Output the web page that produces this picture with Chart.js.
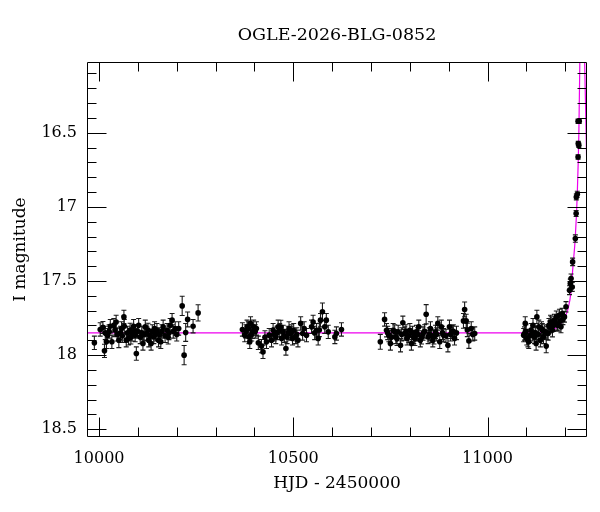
<!DOCTYPE html>
<html><head><meta charset="utf-8">
<script src="https://cdn.jsdelivr.net/npm/chart.js@4"></script>
<style>html,body{margin:0;padding:0;background:#fff}</style>
</head><body>
<canvas id="c" width="600" height="512"></canvas>
<script>
// Observations: HJD-2450000, I magnitude, error
const hjd = [
 9988,10003,10010,10014,10019,10022,10026,10029,10033,10038,10044,10047,10051,10055,10060,10064,10065,10070,10076,10080,10085,10089,10093,10096,10099,10102,10106,10110,10113,10119,10123,10128,10134,10137,10141,10145,10149,10153,10159,10165,10170,10175,10180,10183,10188,10196,10200,10205,10214,10219,10223,10228,10242,10255,
 10369,10375,10381,10386,10388,10390,10395,10398,10405,10410,10418,10422,10431,10438,10444,10448,10455,10461,10465,10470,10474,10481,10484,10489,10493,10498,10501,10506,10512,10519,10524,10534,10547,10551,10560,10564,10570,10575,10581,10585,10590,10607,10611,10624,
 10724,10735,10740,10746,10750,10757,10764,10770,10776,10782,10787,10793,10800,10804,10810,10817,10823,10827,10834,10842,10847,10853,10859,10866,10872,10877,10881,10887,10898,10902,10909,10915,10938,10941,10945,10952,10958,10967,
 11093,11095,11097,11101,11104,11106,11112,11117,11121,11125,11127,11132,11136,11141,11144,11151,11153,11156,11158,11162,11164,11167,11172,11177,11181,11185,11189,11192,11194,11198,11202,11211,11213,11215,11218,11219,11226,11228,11228.5,11231,11233,11233.5,11235,11233,11236,
 10016,10041,10058,10073,10082,10091,10116,10126,10131,10143,10156,10162,10178,10191,
 10378,10384,10393,10402,10427,10451,10458,10468,10477,10487,10496,10509,10528,10555,10567,
 10743,10753,10761,10767,10779,10790,10797,10807,10813,10820,10830,10838,10850,10856,10862,10869,10884,10893,10905,10912,10920,10948,10962,
 11099,11109,11115,11123,11130,11139,11147,11160,11170,11179,11187,11196
];
const imag = [
 17.917,17.827,17.813,17.971,17.910,17.865,17.840,17.805,17.910,17.798,17.776,17.860,17.899,17.850,17.870,17.742,17.805,17.899,17.887,17.830,17.860,17.805,17.865,17.989,17.840,17.798,17.877,17.850,17.921,17.809,17.854,17.899,17.921,17.840,17.877,17.860,17.832,17.899,17.910,17.809,17.870,17.832,17.850,17.798,17.764,17.820,17.860,17.820,17.668,18.000,17.847,17.759,17.805,17.715,
 17.827,17.865,17.809,17.877,17.910,17.786,17.843,17.809,17.820,17.917,17.939,17.978,17.910,17.865,17.899,17.832,17.877,17.809,17.832,17.887,17.843,17.955,17.877,17.820,17.854,17.887,17.832,17.877,17.899,17.786,17.854,17.865,17.809,17.776,17.832,17.887,17.764,17.708,17.809,17.764,17.843,17.877,17.854,17.827,
 17.910,17.759,17.832,17.865,17.921,17.832,17.877,17.843,17.933,17.782,17.854,17.887,17.832,17.921,17.877,17.843,17.809,17.899,17.854,17.724,17.877,17.820,17.899,17.843,17.786,17.910,17.809,17.865,17.933,17.809,17.843,17.887,17.769,17.692,17.769,17.904,17.820,17.854,
 17.865,17.854,17.786,17.887,17.899,17.910,17.832,17.798,17.877,17.921,17.742,17.809,17.899,17.832,17.877,17.939,17.850,17.854,17.798,17.776,17.786,17.832,17.764,17.742,17.798,17.730,17.809,17.719,17.759,17.742,17.674,17.562,17.517,17.483,17.540,17.371,17.214,17.045,16.933,16.915,16.664,16.573,16.585,16.423,16.423,
 17.85,17.83,17.82,17.85,17.88,17.84,17.86,17.83,17.87,17.82,17.86,17.84,17.88,17.84,
 17.84,17.82,17.86,17.84,17.88,17.86,17.85,17.81,17.87,17.85,17.84,17.86,17.82,17.85,17.83,
 17.85,17.88,17.84,17.89,17.86,17.84,17.87,17.85,17.89,17.86,17.88,17.84,17.86,17.87,17.88,17.86,17.85,17.87,17.86,17.84,17.85,17.83,17.86,
 17.84,17.87,17.86,17.85,17.86,17.82,17.84,17.81,17.80,17.79,17.77,17.74
];
const ierr = [
 0.045,0.045,0.040,0.045,0.045,0.045,0.045,0.045,0.045,0.045,0.045,0.045,0.050,0.045,0.045,0.045,0.045,0.045,0.045,0.045,0.045,0.045,0.045,0.045,0.045,0.045,0.045,0.045,0.045,0.045,0.045,0.045,0.045,0.045,0.045,0.045,0.045,0.045,0.045,0.045,0.045,0.045,0.045,0.045,0.045,0.045,0.045,0.045,0.065,0.065,0.060,0.050,0.045,0.055,
 0.045,0.045,0.045,0.045,0.045,0.045,0.045,0.045,0.045,0.045,0.045,0.045,0.045,0.045,0.045,0.045,0.045,0.045,0.045,0.045,0.045,0.045,0.045,0.045,0.045,0.045,0.045,0.045,0.045,0.045,0.045,0.045,0.045,0.045,0.045,0.045,0.045,0.060,0.045,0.045,0.045,0.045,0.045,0.045,
 0.050,0.045,0.045,0.045,0.045,0.045,0.045,0.045,0.045,0.045,0.045,0.045,0.045,0.045,0.045,0.045,0.045,0.045,0.045,0.065,0.045,0.045,0.045,0.045,0.045,0.045,0.045,0.045,0.045,0.045,0.045,0.045,0.050,0.050,0.045,0.050,0.045,0.045,
 0.045,0.045,0.045,0.045,0.045,0.045,0.045,0.045,0.045,0.045,0.045,0.045,0.045,0.045,0.045,0.045,0.045,0.045,0.045,0.045,0.045,0.045,0.040,0.040,0.040,0.040,0.040,0.035,0.035,0.035,0.035,0.030,0.030,0.030,0.030,0.025,0.025,0.020,0.020,0.020,0.015,0.015,0.015,0.015,0.015,
 0.045,0.045,0.045,0.045,0.045,0.045,0.045,0.045,0.045,0.045,0.045,0.045,0.045,0.045,
 0.045,0.045,0.045,0.045,0.045,0.045,0.045,0.045,0.045,0.045,0.045,0.045,0.045,0.045,0.045,
 0.045,0.045,0.045,0.045,0.045,0.045,0.045,0.045,0.045,0.045,0.045,0.045,0.045,0.045,0.045,0.045,0.045,0.045,0.045,0.045,0.045,0.045,0.045,
 0.045,0.045,0.045,0.045,0.045,0.045,0.045,0.040,0.040,0.040,0.040,0.035
];
// Model light curve
const modelHjd = [9969,11140,11168,11185,11194,11200,11207,11215,11219,11226,11231,11235,11237.5,11241,11244,11247,11250,11252,11256];
const modelMag = [17.85,17.85,17.83,17.80,17.77,17.74,17.69,17.57,17.43,17.20,16.91,16.51,16.03,15.4,15.2,15.4,16.03,16.28,16.80];
// Axis tick labels
const xTickValues = [10000, 10500, 11000];
const yTickValues = [16.5, 17, 17.5, 18, 18.5];

const FONT = "'DejaVu Serif', 'Liberation Serif', serif";

const errorBars = {
  id: 'errorBars',
  beforeDatasetDraw(chart, args) {
    if (args.index !== 1) return;
    const {ctx, scales: {x, y}, chartArea: a} = chart;
    ctx.save();
    ctx.beginPath(); ctx.rect(a.left, a.top, a.right - a.left, a.bottom - a.top); ctx.clip();
    ctx.strokeStyle = '#1a1a1a'; ctx.lineWidth = 1.1;
    ctx.beginPath();
    for (let i = 0; i < hjd.length; i++) {
      const px = x.getPixelForValue(hjd[i]);
      const y1 = y.getPixelForValue(imag[i] - ierr[i]);
      const y2 = y.getPixelForValue(imag[i] + ierr[i]);
      ctx.moveTo(px, y1); ctx.lineTo(px, y2);
      ctx.moveTo(px - 2.5, y1); ctx.lineTo(px + 2.5, y1);
      ctx.moveTo(px - 2.5, y2); ctx.lineTo(px + 2.5, y2);
    }
    ctx.stroke();
    ctx.restore();
  }
};

const frameTicks = {
  id: 'frameTicks',
  afterDatasetsDraw(chart) {
    const {ctx, chartArea: {left, right, top, bottom}, scales: {x, y}} = chart;
    const L = Math.round(left) + 0.5, R = Math.round(right) - 0.5, T = Math.round(top) + 0.5, B = Math.round(bottom) - 0.5;
    ctx.save();
    ctx.strokeStyle = '#000'; ctx.lineWidth = 1;
    ctx.beginPath();
    ctx.rect(L, T, R - L, B - T);
    const xMaj = x.ticks.map(t => t.value);
    const yMaj = y.ticks.map(t => t.value);
    const MAJ = 19, MIN = 9;
    for (let v = Math.ceil(x.min / 100) * 100; v <= x.max; v += 100) {
      const len = xMaj.some(m => Math.abs(m - v) < 1e-6) ? MAJ : MIN;
      const px = Math.round(x.getPixelForValue(v)) + 0.5;
      ctx.moveTo(px, B); ctx.lineTo(px, B - len);
      ctx.moveTo(px, T); ctx.lineTo(px, T + len);
    }
    for (let k = Math.ceil(y.min * 10); k <= Math.floor(y.max * 10); k++) {
      const v = k / 10;
      const len = yMaj.some(m => Math.abs(m - v) < 1e-6) ? MAJ : MIN;
      const py = Math.round(y.getPixelForValue(v)) + 0.5;
      ctx.moveTo(L, py); ctx.lineTo(L + len, py);
      ctx.moveTo(R, py); ctx.lineTo(R - len, py);
    }
    ctx.stroke();
    ctx.restore();
  }
};

new Chart(document.getElementById('c'), {
  data: {
    datasets: [
      {
        type: 'line',
        label: 'model',
        data: modelHjd.map((d, i) => ({x: d, y: modelMag[i]})),
        borderColor: '#ee00ee',
        borderWidth: 1.2,
        pointRadius: 0,
        cubicInterpolationMode: 'monotone',
        fill: false,
        order: 2
      },
      {
        type: 'scatter',
        label: 'OGLE',
        data: hjd.map((d, i) => ({x: d, y: imag[i]})),
        backgroundColor: '#000',
        borderColor: '#000',
        borderWidth: 0,
        pointRadius: 2.8,
        order: 1
      }
    ]
  },
  options: {
    responsive: false,
    animation: false,
    devicePixelRatio: 1,
    layout: {padding: {left: 0, right: 13, top: 0, bottom: 0}},
    plugins: {
      legend: {display: false},
      tooltip: {enabled: false},
      title: {
        display: true,
        fullSize: false,
        text: 'OGLE-2026-BLG-0852',
        color: '#000',
        font: {family: FONT, size: 17.5, weight: 'normal', lineHeight: 1.2},
        padding: {top: 25, bottom: 16}
      }
    },
    scales: {
      x: {
        type: 'linear',
        position: 'bottom',
        min: 9969,
        max: 11256,
        afterFit(s) { s.height = 75; },
        afterBuildTicks(s) { s.ticks = xTickValues.map(v => ({value: v})); },
        grid: {display: false, drawTicks: false},
        border: {display: false},
        ticks: {
          autoSkip: false,
          maxRotation: 0,
          padding: 12,
          color: '#000',
          font: {family: FONT, size: 16},
          callback: v => String(v)
        },
        title: {
          display: true,
          text: 'HJD - 2450000',
          color: '#000',
          font: {family: FONT, size: 17},
          padding: {top: 0, bottom: 18}
        }
      },
      y: {
        type: 'linear',
        position: 'left',
        reverse: true,
        min: 16.023,
        max: 18.552,
        afterFit(s) { s.width = 87; },
        afterBuildTicks(s) { s.ticks = yTickValues.map(v => ({value: v})); },
        grid: {display: false, drawTicks: false},
        border: {display: false},
        ticks: {
          autoSkip: false,
          padding: 10,
          color: '#000',
          font: {family: FONT, size: 16},
          callback: v => String(v)
        },
        title: {
          display: true,
          text: 'I magnitude',
          color: '#000',
          font: {family: FONT, size: 17},
          padding: {top: 10, bottom: 0}
        }
      }
    }
  },
  plugins: [errorBars, frameTicks]
});
</script>
</body></html>
